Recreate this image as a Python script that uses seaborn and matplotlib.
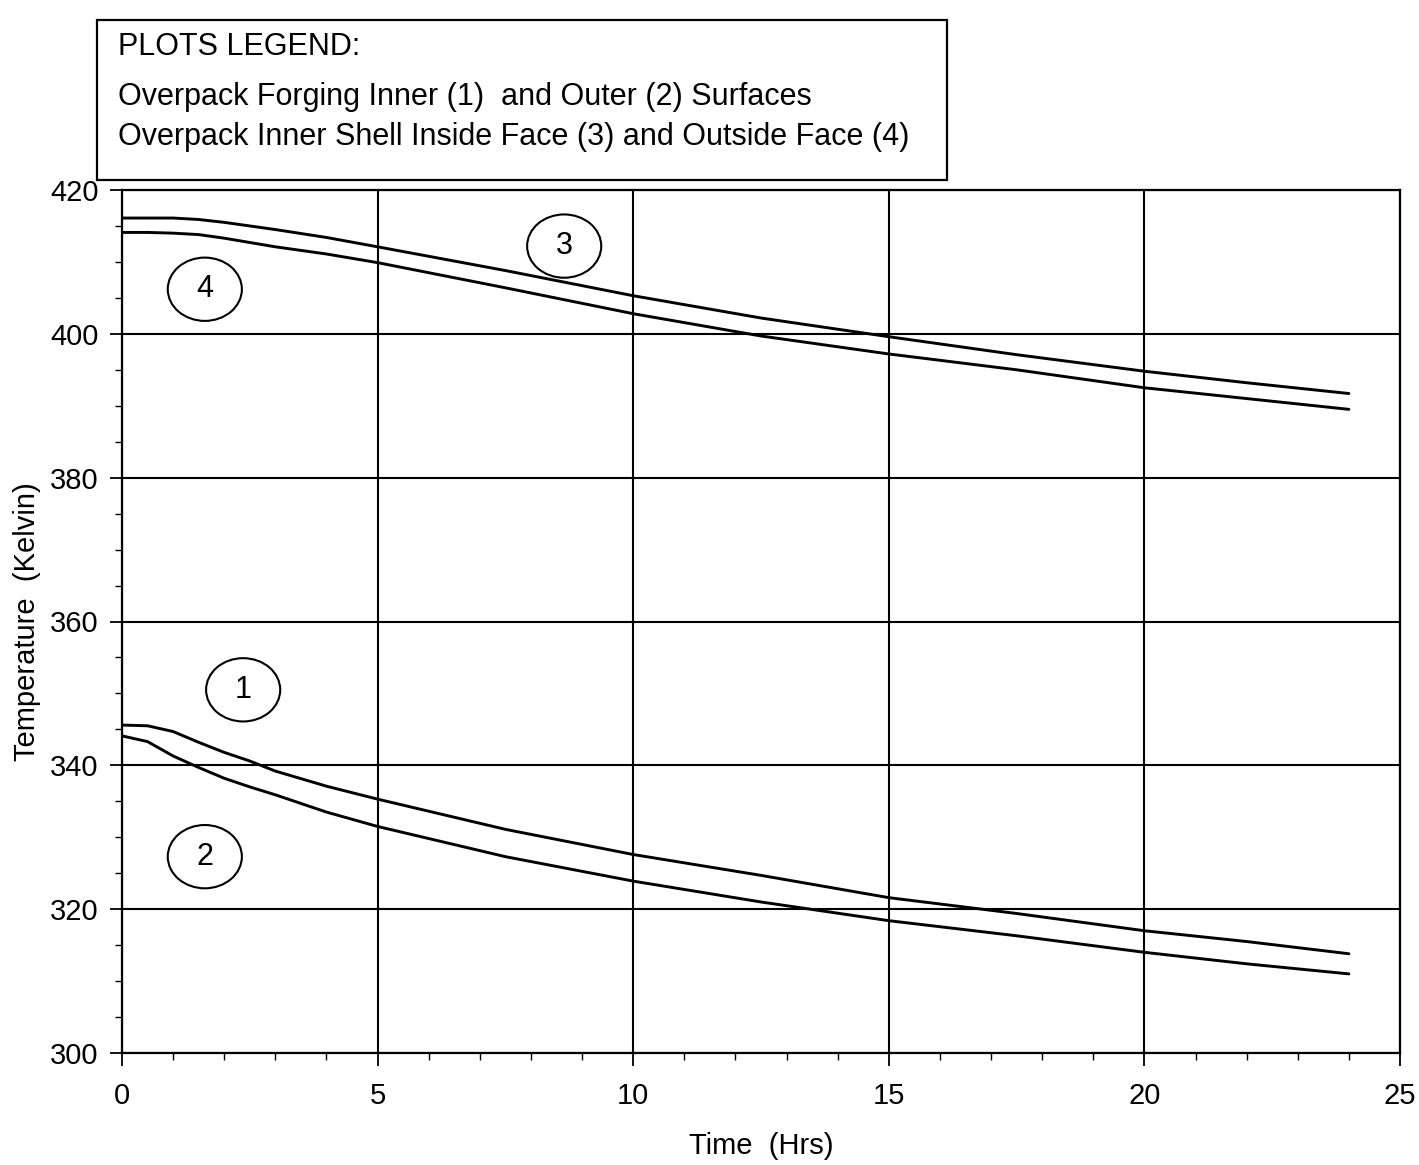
import matplotlib
matplotlib.use("Agg")
import matplotlib.pyplot as plt
from matplotlib.patches import Ellipse, Rectangle
from matplotlib.ticker import MultipleLocator
import seaborn as sns
import pandas as pd

time_hrs = [0, 0.5, 1, 1.5, 2, 2.5, 3, 4, 5, 7.5, 10, 12.5, 15, 17.5, 20, 22, 24]
forging_inner_1 = [345.6, 345.5, 344.7, 343.2, 341.8, 340.6, 339.2, 337.1, 335.3, 331.1,
                   327.6, 324.7, 321.6, 319.4, 317.0, 315.5, 313.8]
forging_outer_2 = [344.1, 343.3, 341.3, 339.7, 338.2, 337.0, 335.9, 333.5, 331.5, 327.3,
                   323.9, 321.0, 318.4, 316.3, 314.0, 312.4, 311.0]
shell_inside_3 = [416.1, 416.1, 416.1, 415.9, 415.5, 415.0, 414.5, 413.4, 412.1, 408.8,
                  405.3, 402.2, 399.6, 397.1, 394.8, 393.2, 391.7]
shell_outside_4 = [414.1, 414.1, 414.0, 413.8, 413.3, 412.7, 412.1, 411.1, 409.9, 406.4,
                   402.8, 399.7, 397.2, 395.0, 392.5, 391.0, 389.5]

series = {"1": forging_inner_1, "2": forging_outer_2, "3": shell_inside_3, "4": shell_outside_4}
label_pos = {"1": (2.37, 350.5), "2": (1.62, 327.3), "3": (8.65, 412.2), "4": (1.62, 406.2)}

legend_lines = ["PLOTS LEGEND:",
                "Overpack Forging Inner (1)  and Outer (2) Surfaces",
                "Overpack Inner Shell Inside Face (3) and Outside Face (4)"]

sns.set_style("white")
plt.rcParams["font.family"] = ["Liberation Sans", "DejaVu Sans"]
plt.rcParams["text.color"] = "black"
plt.rcParams["axes.labelcolor"] = "black"

fig = plt.figure(figsize=(14.19, 11.65), dpi=100)
ax = fig.add_axes([122 / 1419, 1 - 1053 / 1165, (1400 - 122) / 1419, (1053 - 190) / 1165])

for name, vals in series.items():
    df = pd.DataFrame({"t": time_hrs, "T": vals})
    sns.lineplot(data=df, x="t", y="T", ax=ax, color="black", linewidth=2.1)

ax.set_xlim(0, 25)
ax.set_ylim(300, 420)
ax.xaxis.set_major_locator(MultipleLocator(5))
ax.xaxis.set_minor_locator(MultipleLocator(1))
ax.yaxis.set_major_locator(MultipleLocator(20))
ax.yaxis.set_minor_locator(MultipleLocator(5))
ax.grid(True, which="major", color="black", linewidth=1.5)
for s in ax.spines.values():
    s.set_color("black")
    s.set_linewidth(1.6)
ax.tick_params(which="major", direction="out", length=9, width=1.3, labelsize=21,
               colors="black", pad=8)
ax.tick_params(which="minor", direction="out", length=5, width=1.0, colors="black")
ax.tick_params(axis="x", which="both", bottom=True)
ax.tick_params(axis="x", which="major", pad=12)
ax.tick_params(axis="y", which="both", left=True)
ax.set_xlabel("Time  (Hrs)", fontsize=21, labelpad=16)
ax.set_ylabel("Temperature  (Kelvin)", fontsize=21, labelpad=6)

for name, (x, y) in label_pos.items():
    ax.add_patch(Ellipse((x, y), width=1.45, height=8.8, facecolor="white",
                         edgecolor="black", linewidth=1.5, zorder=5))
    ax.text(x, y, name, ha="center", va="center", fontsize=22, zorder=6)

fig.patches.append(Rectangle((97 / 1419, 1 - 180 / 1165), (947 - 97) / 1419, 160 / 1165,
                             transform=fig.transFigure, fill=False, edgecolor="black",
                             linewidth=1.6))
ys = [47, 97, 137]
for line, yp in zip(legend_lines, ys):
    fig.text(118 / 1419, 1 - yp / 1165, line, ha="left", va="center", fontsize=22)

fig.savefig("out.png", dpi=100)
